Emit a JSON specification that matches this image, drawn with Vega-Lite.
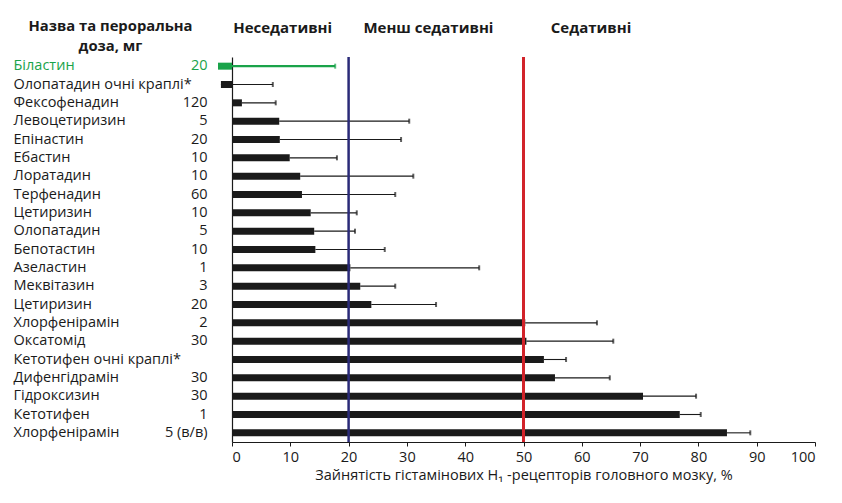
{
  "$schema": "https://vega.github.io/schema/vega-lite/v6.json",
  "width": 583,
  "height": 385,
  "autosize": "none",
  "padding": {"left": 232, "top": 57, "right": 27, "bottom": 61},
  "background": "white",
  "config": {
    "font": "Open Sans",
    "view": {"stroke": null},
    "axis": {"labelFont": "Open Sans", "titleFont": "Open Sans", "labelColor": "#1a1a1a", "titleColor": "#1a1a1a"}
  },
  "datasets": {
    "drugs": [
      {"key": "Біластин|20", "value": -2.4, "upper": 17.7, "hl": true},
      {"key": "Олопатадин очні краплі*|", "value": -1.9, "upper": 7.0, "hl": false},
      {"key": "Фексофенадин|120", "value": 1.7, "upper": 7.5, "hl": false},
      {"key": "Левоцетиризин|5", "value": 8.1, "upper": 30.4, "hl": false},
      {"key": "Епінастин|20", "value": 8.2, "upper": 29.0, "hl": false},
      {"key": "Ебастин|10", "value": 9.9, "upper": 18.0, "hl": false},
      {"key": "Лоратадин|10", "value": 11.7, "upper": 31.1, "hl": false},
      {"key": "Терфенадин|60", "value": 12.0, "upper": 28.0, "hl": false},
      {"key": "Цетиризин|10", "value": 13.5, "upper": 21.4, "hl": false},
      {"key": "Олопатадин|5", "value": 14.1, "upper": 21.1, "hl": false},
      {"key": "Бепотастин|10", "value": 14.3, "upper": 26.2, "hl": false},
      {"key": "Азеластин|1", "value": 20.3, "upper": 42.4, "hl": false},
      {"key": "Меквітазин|3", "value": 22.0, "upper": 28.0, "hl": false},
      {"key": "Цетиризин|20", "value": 23.9, "upper": 35.0, "hl": false},
      {"key": "Хлорфенірамін|2", "value": 50.3, "upper": 62.6, "hl": false},
      {"key": "Оксатомід|30", "value": 50.5, "upper": 65.4, "hl": false},
      {"key": "Кетотифен очні краплі*|", "value": 53.5, "upper": 57.3, "hl": false},
      {"key": "Дифенгідрамін|30", "value": 55.4, "upper": 64.8, "hl": false},
      {"key": "Гідроксизин|30", "value": 70.5, "upper": 79.6, "hl": false},
      {"key": "Кетотифен|1", "value": 76.8, "upper": 80.4, "hl": false},
      {"key": "Хлорфенірамін|5 (в/в)", "value": 84.9, "upper": 88.9, "hl": false}
    ],
    "thresholds": [
      {"t": 20, "c": "#2a2a78", "w": 2.5},
      {"t": 50, "c": "#d2232a", "w": 3}
    ]
  },
  "resolve": {"axis": {"x": "independent", "y": "independent"}},
  "layer": [
    {
      "data": {"name": "drugs"},
      "mark": {"type": "bar", "size": 7},
      "encoding": {
        "y": {
          "field": "key", "type": "nominal", "sort": null,
          "scale": {"paddingInner": 0, "paddingOuter": 0},
          "axis": {
            "orient": "left",
            "labelExpr": "split(datum.label, '|')[0]",
            "labelAlign": "left",
            "labelBaseline": "middle",
            "labelPadding": 219,
            "labelFontSize": 14.5,
            "labelColor": {"condition": {"test": "indexof(datum.value, 'Біластин') == 0", "value": "#1aa34a"}, "value": "#1a1a1a"},
            "ticks": false,
            "tickSize": 0,
            "domain": true,
            "domainColor": "#1a1a1a",
            "domainWidth": 1.2,
            "title": ["Назва та пероральна", "доза, мг"],
            "titleAngle": 0,
            "titleAlign": "center",
            "titleBaseline": "top",
            "titleX": -122,
            "titleY": -39,
            "titleFontSize": 14.8,
            "titleFontWeight": "bold",
            "titleLineHeight": 20
          }
        },
        "x": {
          "field": "value", "type": "quantitative",
          "scale": {"domain": [0, 100], "nice": false},
          "axis": {
            "orient": "bottom",
            "values": [0, 10, 20, 30, 40, 50, 60, 70, 80, 90, 100],
            "grid": false,
            "domainColor": "#1a1a1a",
            "domainWidth": 1.2,
            "tickColor": "#1a1a1a",
            "tickSize": 4,
            "labelFontSize": 14.5,
            "labelPadding": 4,
            "title": "Зайнятість гістамінових H₁ -рецепторів головного мозку, %",
            "titleFontSize": 14.5,
            "titleFontWeight": "normal",
            "titlePadding": 5
          }
        },
        "color": {
          "condition": {"test": "datum.hl", "value": "#1aa34a"},
          "value": "#1a1a1a"
        }
      }
    },
    {
      "data": {"name": "drugs"},
      "mark": {"type": "rule"},
      "encoding": {
        "y": {
          "field": "key", "type": "nominal", "sort": null,
          "axis": {
            "orient": "left",
            "labelExpr": "split(datum.label, '|')[1]",
            "labelAlign": "right",
            "labelBaseline": "middle",
            "labelPadding": 25,
            "labelFontSize": 14.5,
            "labelColor": {"condition": {"test": "indexof(datum.value, 'Біластин') == 0", "value": "#1aa34a"}, "value": "#1a1a1a"},
            "ticks": false,
            "tickSize": 0,
            "domain": false,
            "title": null
          }
        },
        "x": {
          "field": "value", "type": "quantitative",
          "axis": {
            "orient": "top",
            "values": [8.6, 33.6, 61.5],
            "labelExpr": "datum.value < 20 ? 'Неседативні' : datum.value < 50 ? 'Менш седативні' : 'Седативні'",
            "labelFontSize": 15,
            "labelFontWeight": "bold",
            "labelPadding": 22,
            "ticks": false,
            "tickSize": 0,
            "domain": false,
            "grid": false,
            "title": null
          }
        },
        "x2": {"field": "upper"},
        "color": {
          "condition": {"test": "datum.hl", "value": "#1aa34a"},
          "value": "#1a1a1a"
        },
        "strokeWidth": {
          "condition": {"test": "datum.hl", "value": 2.2},
          "value": 1.1
        }
      }
    },
    {
      "data": {"name": "drugs"},
      "mark": {"type": "tick", "thickness": 2, "size": 5},
      "encoding": {
        "y": {"field": "key", "type": "nominal", "sort": null, "axis": null},
        "x": {"field": "upper", "type": "quantitative", "axis": null},
        "color": {
          "condition": {"test": "datum.hl", "value": "#1aa34a"},
          "value": "#1a1a1a"
        }
      }
    },
    {
      "data": {"name": "thresholds"},
      "mark": {"type": "rule"},
      "encoding": {
        "x": {"field": "t", "type": "quantitative", "axis": null},
        "color": {"field": "c", "type": "nominal", "scale": null},
        "strokeWidth": {"field": "w", "type": "quantitative", "scale": null}
      }
    }
  ]
}
